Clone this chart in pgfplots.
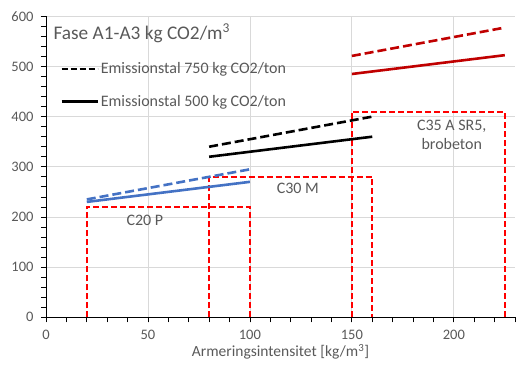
\documentclass[border=0pt]{standalone}
\usepackage{fontspec}
\setmainfont{Carlito}
\usepackage{pgfplots}
\pgfplotsset{compat=1.18}
\definecolor{txt}{HTML}{595959}
\definecolor{gridc}{HTML}{D9D9D9}
\definecolor{blueS}{HTML}{4472C4}
\definecolor{darkred}{HTML}{C00000}
\definecolor{boxred}{HTML}{FF0000}
\begin{document}
\begin{tikzpicture}
\useasboundingbox (0,0) rectangle (530bp,376bp);
\begin{axis}[
 at={(46bp,58.7bp)}, anchor=south west,
 scale only axis, width=469bp, height=301bp,
 xmin=0, xmax=230, ymin=0, ymax=600,
 axis lines=left, axis line style={-, black, line width=0.8bp},
 xtick={0,50,...,200}, ytick={0,100,...,600},
 minor xtick={10,20,...,230}, minor ytick={20,40,...,600},
 tick align=outside, major tick length=5bp, minor tick length=5bp,
 tick style={black, line width=0.8bp},
 grid=major, major grid style={gridc, line width=0.8bp},
 ticklabel style={font=\fontsize{14.5bp}{17bp}\selectfont, text=txt},
 yticklabel style={xshift=-4bp},
 xticklabel style={yshift=-4bp},
 /pgf/number format/assume math mode=true,
 xlabel={Armeringsintensitet [kg/m\textsuperscript{3}]},
 xlabel style={font=\fontsize{15.5bp}{18bp}\selectfont, text=txt, yshift=2bp},
 legend style={at={(axis cs:6.9,512)}, anchor=north west, draw=none, fill=none,
   font=\fontsize{16bp}{18bp}\selectfont, text=txt, row sep=16bp, inner sep=0pt},
 legend cell align=left,
 legend image code/.code={\draw[#1] (0bp,0bp) -- (36bp,0bp);},
]
\addlegendimage{black, line width=2.6bp, dash pattern=on 6bp off 3bp}
\addlegendentry{Emissionstal 750 kg CO2/ton}
\addlegendimage{black, line width=2.6bp}
\addlegendentry{Emissionstal 500 kg CO2/ton}

% boxes
\addplot[forget plot, boxred, line width=1.8bp, dash pattern=on 6bp off 3bp] coordinates {(20,0) (20,220) (100,220) (100,0)};
\addplot[forget plot, boxred, line width=1.8bp, dash pattern=on 6bp off 3bp] coordinates {(80,0) (80,280) (160,280) (160,0)};
\addplot[forget plot, boxred, line width=1.8bp, dash pattern=on 6bp off 3bp] coordinates {(150,0) (150,410) (225,410) (225,0)};

% series
\addplot[forget plot, blueS, line width=2.6bp] coordinates {(20,230) (100,270)};
\addplot[forget plot, blueS, line width=2.6bp, dash pattern=on 9bp off 4bp] coordinates {(20,235) (100,295)};
\addplot[forget plot, black, line width=2.6bp] coordinates {(80,320) (160,360)};
\addplot[forget plot, black, line width=2.6bp, dash pattern=on 9bp off 4bp] coordinates {(80,340) (160,400)};
\addplot[forget plot, darkred, line width=2.6bp] coordinates {(150,485) (225,522.5)};
\addplot[forget plot, darkred, line width=2.6bp, dash pattern=on 9bp off 4bp] coordinates {(150,521) (225,577.5)};

\node[anchor=west, text=txt, font=\fontsize{19.3bp}{22bp}\selectfont, inner sep=0pt] at (axis cs:3.6,566) {Fase A1-A3 kg CO2/m\textsuperscript{3}};
\node[text=txt, font=\fontsize{16bp}{18bp}\selectfont] at (axis cs:48.5,194) {C20 P};
\node[text=txt, font=\fontsize{16bp}{18bp}\selectfont] at (axis cs:123.5,258) {C30 M};
\node[text=txt, font=\fontsize{16bp}{19bp}\selectfont, align=center] at (axis cs:199,364) {C35 A SR5,\\brobeton};
\end{axis}
\end{tikzpicture}
\end{document}
